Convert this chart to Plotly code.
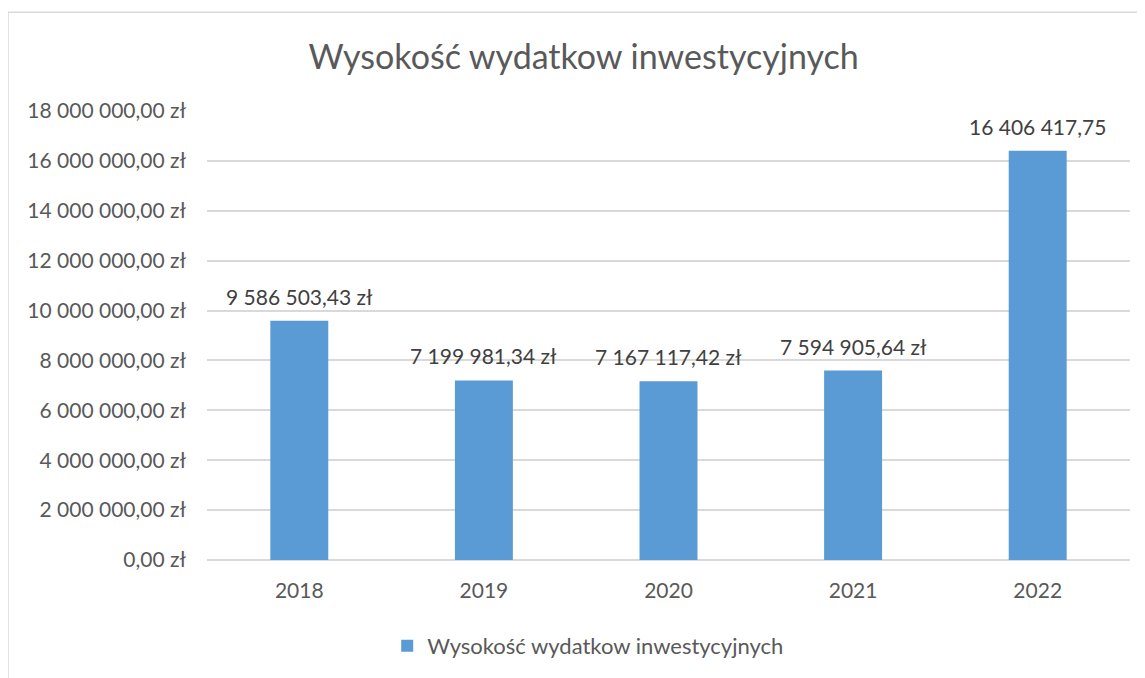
import plotly.graph_objects as go

years = ["2018", "2019", "2020", "2021", "2022"]
values = [9586503.43, 7199981.34, 7167117.42, 7594905.64, 16406417.75]
value_labels = ["9 586 503,43 zł", "7 199 981,34 zł", "7 167 117,42 zł", "7 594 905,64 zł", "16 406 417,75"]
tick_vals = [0, 2e6, 4e6, 6e6, 8e6, 10e6, 12e6, 14e6, 16e6, 18e6]
tick_text = ["0,00 zł", "2 000 000,00 zł", "4 000 000,00 zł", "6 000 000,00 zł", "8 000 000,00 zł",
             "10 000 000,00 zł", "12 000 000,00 zł", "14 000 000,00 zł", "16 000 000,00 zł", "18 000 000,00 zł"]
series_name = "Wysokość wydatkow inwestycyjnych"

font = "Lato, 'Open Sans', sans-serif"
bar_color = "#5b9bd5"
grid_color = "#d9d9d9"

# the page has an 8px body margin, so the figure is 8px smaller
W, H = 1137, 670

fig = go.Figure()

fig.add_trace(
    go.Bar(
        x=years,
        y=values,
        name=series_name,
        marker=dict(color=bar_color, line=dict(width=0)),
        showlegend=True,
    )
)

# data labels above the bars
# (year strings look numeric, so annotations use the category index)
for i, (v, lab) in enumerate(zip(values, value_labels)):
    fig.add_annotation(
        x=i, y=v, text=lab, showarrow=False,
        yanchor="bottom", yshift=10,
        font=dict(family=font, size=21, color="#404040"),
    )

# outer chart border (runs past the picture edges)
fig.add_shape(
    type="rect", xref="paper", yref="paper",
    x0=-0.2156, x1=1.3, y0=1.22, y1=-0.45,
    line=dict(color=grid_color, width=1.5),
    fillcolor="rgba(0,0,0,0)", layer="below",
)

fig.update_layout(
    width=W,
    height=H,
    margin=dict(l=199, r=15, t=103, b=117),
    paper_bgcolor="white",
    plot_bgcolor="white",
    bargap=0.686,
    font=dict(family=font, color="#595959"),
    title=dict(
        text=series_name,
        x=0.408, xref="paper", xanchor="center",
        y=1 - 49 / H, yanchor="middle",
        font=dict(family=font, size=34, color="#595959"),
    ),
    legend=dict(
        orientation="h",
        x=0.413, xanchor="center",
        y=-0.189, yanchor="middle",
        font=dict(family=font, size=22, color="#595959"),
    ),
)

fig.update_xaxes(
    type="category",
    range=[-0.5, len(years) - 0.5],
    showgrid=False,
    showline=False,
    ticks="",
    ticklabelstandoff=16,
    tickfont=dict(family=font, size=21, color="#595959"),
)
fig.update_yaxes(
    range=[0, 18e6],
    tickvals=tick_vals,
    ticktext=tick_text,
    showgrid=True,
    gridcolor=grid_color,
    gridwidth=1.5,
    zeroline=True,
    zerolinecolor=grid_color,
    zerolinewidth=1.5,
    showline=False,
    ticks="",
    ticklabelstandoff=20,
    tickfont=dict(family=font, size=21, color="#595959"),
)

fig.write_html("out.html")
